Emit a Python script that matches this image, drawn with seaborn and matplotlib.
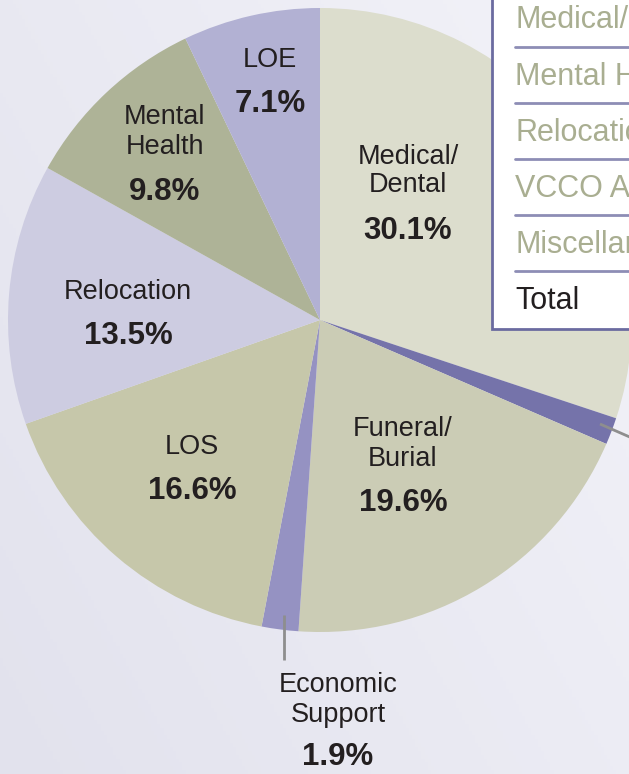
import numpy as np
import matplotlib
matplotlib.use("Agg")
import matplotlib.pyplot as plt
import seaborn as sns
from matplotlib import font_manager

# ---- data ----
categories = ["Medical/\nDental", "Other", "Funeral/\nBurial", "Economic\nSupport",
              "LOS", "Relocation", "Mental\nHealth", "LOE"]
values = [30.1, 1.4, 19.6, 1.9, 16.6, 13.5, 9.8, 7.1]
pct_labels = ["30.1%", "", "19.6%", "1.9%", "16.6%", "13.5%", "9.8%", "7.1%"]
colors = ["#DCDDCD", "#7573AA", "#CBCCB5", "#9592C2", "#C6C7AA", "#CDCCE1", "#AEB397", "#B2B1D3"]
table_rows = ["Medical/Dental", "Mental Health", "Relocation", "VCCO Administration",
              "Miscellaneous", "Total"]

sns.set_theme(style="white")
names = {f.name for f in font_manager.fontManager.ttflist}
narrow = "Liberation Sans Narrow" if "Liberation Sans Narrow" in names else "Liberation Sans"
plt.rcParams["font.family"] = [narrow, "DejaVu Sans"]

W, H = 629, 774
fig = plt.figure(figsize=(W / 100, H / 100), dpi=100)
ax = fig.add_axes([0, 0, 1, 1])

# background gradient
gx = np.linspace(0, 1, 200)
gy = np.linspace(0, 1, 200)
GX, GY = np.meshgrid(gx, gy)
t = (GX * 0.6 + (1 - GY) * 0.4)
c0 = np.array([226, 226, 237]) / 255
c1 = np.array([243, 243, 249]) / 255
img = c0[None, None, :] * (1 - t[..., None]) + c1[None, None, :] * t[..., None]
ax.imshow(img, extent=[0, W, 0, H], origin="upper", zorder=0, aspect="auto")

def Y(y):
    return H - y

cx, cy, R = 320, Y(320), 312
ax.pie(values, colors=colors, startangle=90, counterclock=False,
       center=(cx, cy), radius=R, frame=True,
       wedgeprops=dict(linewidth=0, edgecolor="none", zorder=2))
ax.set_xlim(0, W)
ax.set_ylim(0, H)
ax.set_aspect("auto")
ax.axis("off")

# labels: (x, name_center_y, pct_y)
label_pos = {
    "Medical/\nDental": (408, 171, 231),
    "Funeral/\nBurial": (403, 444, 503),
    "Economic\nSupport": (338, 700, 757),
    "LOS": (192, 447, 491),
    "Relocation": (128, 292, 336),
    "Mental\nHealth": (165, 132, 192),
    "LOE": (270, 60, 104),
}
for cat, pct in zip(categories, pct_labels):
    if cat not in label_pos:
        continue
    x, ny, py = label_pos[cat]
    ax.text(x, Y(ny), cat, ha="center", va="center", fontsize=19.5,
            color="#231F20", linespacing=1.15, zorder=5)
    ax.text(x, Y(py), pct, ha="center", va="center", fontsize=22.5,
            fontweight="bold", color="#231F20", zorder=5,
            family=["Liberation Sans", "DejaVu Sans"])

# leader lines
ax.plot([284, 284], [Y(615), Y(660)], color="#8E8E8E", lw=2, zorder=4, solid_capstyle="butt")
ax.plot([600, 632], [Y(424), Y(438)], color="#8E8E8E", lw=2, zorder=4, solid_capstyle="butt")

# table box (cut off at right)
box = plt.Rectangle((492, Y(329)), 200, 340, facecolor="white", edgecolor="#6B6BA0",
                    lw=2, zorder=6)
ax.add_patch(box)
row_y = [20, 77, 133, 189, 245, 301]
sep_y = [47, 103, 159, 215, 271]
for lab, yy in zip(table_rows, row_y):
    col = "#231F20" if lab == "Total" else "#A9AE91"
    ax.text(515, Y(yy), lab, ha="left", va="center", fontsize=22, color=col, zorder=7,
            family=["Liberation Sans", "DejaVu Sans"], clip_on=True)
for sy in sep_y:
    ax.plot([515, 640], [Y(sy), Y(sy)], color="#8D8DB5", lw=2, zorder=7)

fig.savefig("out.png", dpi=100)
